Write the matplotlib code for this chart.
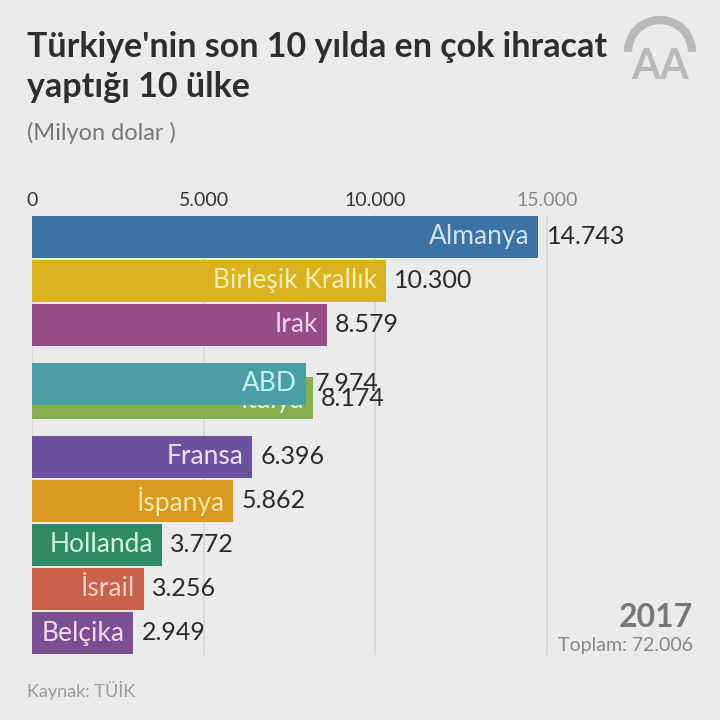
import matplotlib.pyplot as plt
from matplotlib.patches import Arc

plt.rcParams['font.family'] = ['Lato', 'DejaVu Sans']

countries = ['Almanya', 'Birleşik Krallık', 'Irak', 'İtalya', 'ABD',
             'Fransa', 'İspanya', 'Hollanda', 'İsrail', 'Belçika']
values = [14743, 10300, 8579, 8174, 7974, 6396, 5862, 3772, 3256, 2949]
ranks = [0, 1, 2, 3.66, 3.34, 5, 6, 7, 8, 9]   # frame of the race: İtalya/ABD swapping
colors = ['#3d72a4', '#d8b21f', '#944d85', '#86b050', '#4a9fa6',
          '#6a529e', '#d9981e', '#2f8a68', '#c9614b', '#7c4f92']
label_colors = ['#d2e2f2', '#f8eeb4', '#f2d2ec', '#e8f4d8', '#c4f2f6',
                '#ece2fa', '#fbe9ae', '#d2f2e2', '#fad4c4', '#f2dcf4']
ticks = [0, 5000, 10000, 15000]
tick_labels = ['0', '5.000', '10.000', '15.000']
year = '2017'
total = 'Toplam: 72.006'

def fmt(v):
    return f'{v:,}'.replace(',', '.')

bg = '#ebebeb'
fig = plt.figure(figsize=(7.2, 7.2), dpi=100, facecolor=bg)
ax = fig.add_axes([32/720, 65/720, 618/720, 440/720])
ax.set_facecolor(bg)
ax.set_xlim(0, 18000)
ax.set_ylim(9.5, -0.5)

for t in ticks:
    ax.axvline(t, color='#d6d6d6', lw=1.2, zorder=0)

for i in range(len(countries)):
    z = 3 + i  # later bars on top (ABD covers İtalya)
    ax.barh(ranks[i], values[i], height=0.95, color=colors[i], zorder=z)
    ax.text(values[i] - 250, ranks[i], countries[i], ha='right', va='center',
            fontsize=19, color=label_colors[i], zorder=z)
    ax.text(values[i] + 250, ranks[i], fmt(values[i]), ha='left', va='center',
            fontsize=18, color='#2a2a2a', zorder=z)

ax.set_xticks(ticks)
ax.set_xticklabels(tick_labels)
ax.xaxis.tick_top()
ax.tick_params(axis='x', length=0, pad=4, labelsize=14, labelcolor='#333333')
ax.get_xticklabels()[-1].set_color('#888888')
ax.set_yticks([])
for s in ax.spines.values():
    s.set_visible(False)

fig.text(27/720, 1 - 57/720, "Türkiye'nin son 10 yılda en çok ihracat",
         fontsize=24.5, fontweight='bold', color='#2e2e2e', va='baseline')
fig.text(27/720, 1 - 97/720, 'yaptığı 10 ülke',
         fontsize=24.5, fontweight='bold', color='#2e2e2e', va='baseline')
fig.text(27/720, 1 - 140/720, '(Milyon dolar )', fontsize=17, color='#777777',
         va='baseline')

fig.text(693/720, 1 - 627/720, year, fontsize=23, fontweight='bold',
         color='#777777', ha='right', va='baseline')
fig.text(693/720, 1 - 651/720, total, fontsize=14, color='#888888',
         ha='right', va='baseline')
fig.text(27/720, 1 - 697/720, 'Kaynak: TÜİK', fontsize=13, color='#9a9a9a',
         va='baseline')

# AA logo
lax = fig.add_axes([622/720, 1 - 82/720, 76/720, 66/720])
lax.set_xlim(0, 76)
lax.set_ylim(0, 66)
lax.axis('off')
lax.add_patch(Arc((38, 30), 64, 64, theta1=0, theta2=180, lw=6, color='#b9b9b9'))
lax.text(38, 3, 'AA', fontsize=30, fontweight='bold', color='#b9b9b9',
         ha='center', va='baseline')

fig.savefig('out.png', dpi=100, facecolor=bg)
